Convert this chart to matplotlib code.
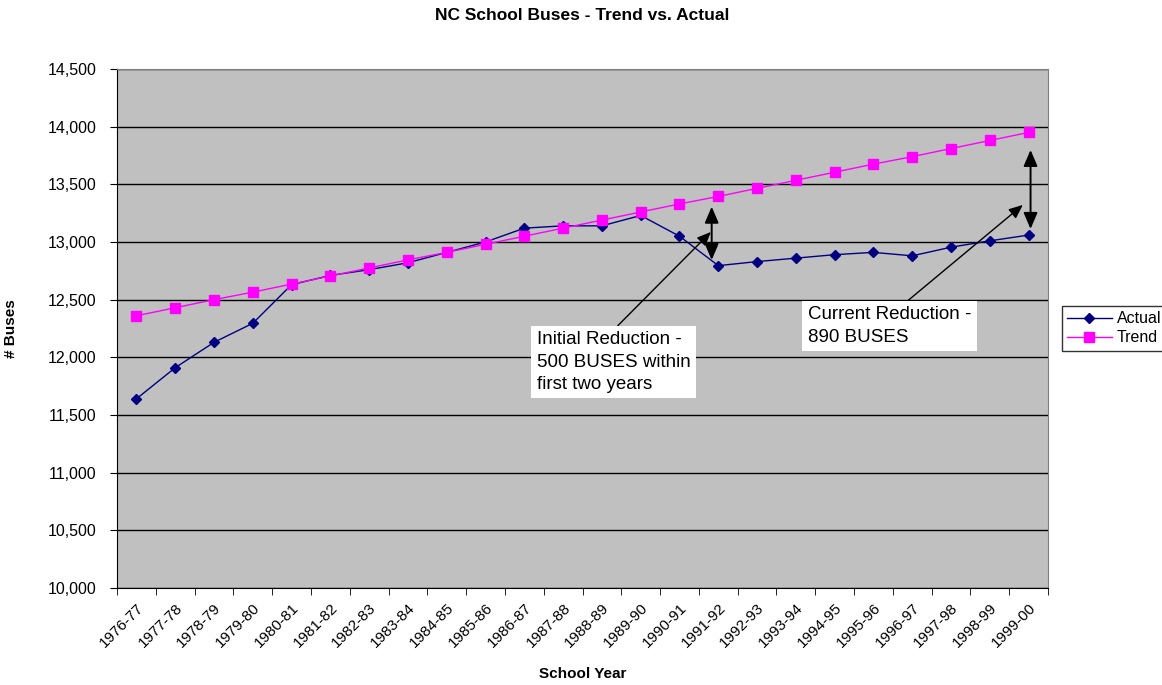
import matplotlib
matplotlib.use('Agg')
import matplotlib.pyplot as plt
import numpy as np

plt.rcParams['font.family'] = ['Liberation Sans', 'DejaVu Sans']

years = ['1976-77', '1977-78', '1978-79', '1979-80', '1980-81', '1981-82',
         '1982-83', '1983-84', '1984-85', '1985-86', '1986-87', '1987-88',
         '1988-89', '1989-90', '1990-91', '1991-92', '1992-93', '1993-94',
         '1994-95', '1995-96', '1996-97', '1997-98', '1998-99', '1999-00']
actual = [11640, 11910, 12130, 12295, 12630, 12710, 12760, 12820, 12910,
          13000, 13120, 13140, 13140, 13230, 13050, 12795, 12830, 12860,
          12890, 12910, 12880, 12955, 13010, 13060]
trend = [12360, 12430, 12500, 12565, 12635, 12705, 12775, 12845, 12910,
         12980, 13050, 13120, 13190, 13260, 13330, 13395, 13465, 13535,
         13605, 13675, 13740, 13810, 13880, 13950]
yticks = list(range(10000, 14501, 500))

fig = plt.figure(figsize=(11.62, 6.85), dpi=100)
ax = fig.add_axes([0.1007, 0.1416, 0.8012, 0.7577])
ax.set_facecolor('#C0C0C0')

x = np.arange(len(years))
ax.plot(x, actual, color='#000080', marker='D', markersize=5, lw=1, label='Actual', zorder=3)
ax.plot(x, trend, color='#FF00FF', marker='s', markersize=7, lw=1, label='Trend', zorder=3)

ax.set_xlim(-0.5, len(years) - 0.5)
ax.set_ylim(10000, 14500)
ax.set_yticks(yticks)
ax.set_yticklabels([f'{v:,}' for v in yticks], fontsize=11.5)
ax.yaxis.grid(True, color='black', lw=1)
ax.set_axisbelow(True)

ax.set_xticks(x)
ax.set_xticklabels(years, rotation=45, ha='right', rotation_mode='anchor', fontsize=11)
ax.tick_params(axis='x', length=0, pad=9)
ax.set_xticks(np.arange(-0.5, len(years)), minor=True)
ax.tick_params(axis='x', which='minor', length=5, direction='out')
ax.tick_params(axis='y', length=5, direction='out', pad=10)

for s in ['top', 'right']:
    ax.spines[s].set_color('#808080')

ax.set_title('NC School Buses - Trend vs. Actual', fontsize=12.5, fontweight='bold', pad=35)
ax.set_xlabel('School Year', fontsize=11, fontweight='bold')
ax.xaxis.set_label_coords(0.5, -0.152)
ax.set_ylabel('# Buses', fontsize=11, fontweight='bold')
ax.yaxis.set_label_coords(-0.106, 0.5)

# double headed arrows showing the gap
arr = dict(arrowstyle='<|-|>,head_length=0.7,head_width=0.3', color='black',
           lw=1.4, mutation_scale=14, shrinkA=0, shrinkB=0)
ax.annotate('', xy=(14.83, 13306), xytext=(14.83, 12844), arrowprops=arr)
ax.annotate('', xy=(23.05, 13798), xytext=(23.05, 13113), arrowprops=arr)

# text boxes with pointer arrows
bbox = dict(facecolor='white', edgecolor='none', pad=4)
ptr = dict(arrowstyle='-|>,head_length=0.7,head_width=0.3', color='black',
           lw=1, mutation_scale=12, shrinkA=0, shrinkB=0)
ax.annotate('Initial Reduction -\n500 BUSES within\nfirst two years',
            xy=(14.81, 13087), xytext=(10.32, 11958),
            fontsize=13.5, va='center', ha='left', linespacing=1.4, bbox=bbox,
            arrowprops=dict(ptr, relpos=(0.49, 1.0)))
ax.annotate('Current Reduction -\n890 BUSES',
            xy=(22.85, 13321), xytext=(17.31, 12272),
            fontsize=13.5, va='center', ha='left', linespacing=1.4, bbox=bbox,
            arrowprops=dict(ptr, relpos=(0.57, 1.0)))

leg = ax.legend(loc='center left', bbox_to_anchor=(1.0145, 0.5), fontsize=11.5,
                frameon=True, fancybox=False, edgecolor='black', borderpad=0.35,
                handlelength=2.8, handletextpad=0.3, labelspacing=0.25,
                borderaxespad=0)
leg.get_frame().set_linewidth(1)

fig.savefig('out.png', dpi=100)
